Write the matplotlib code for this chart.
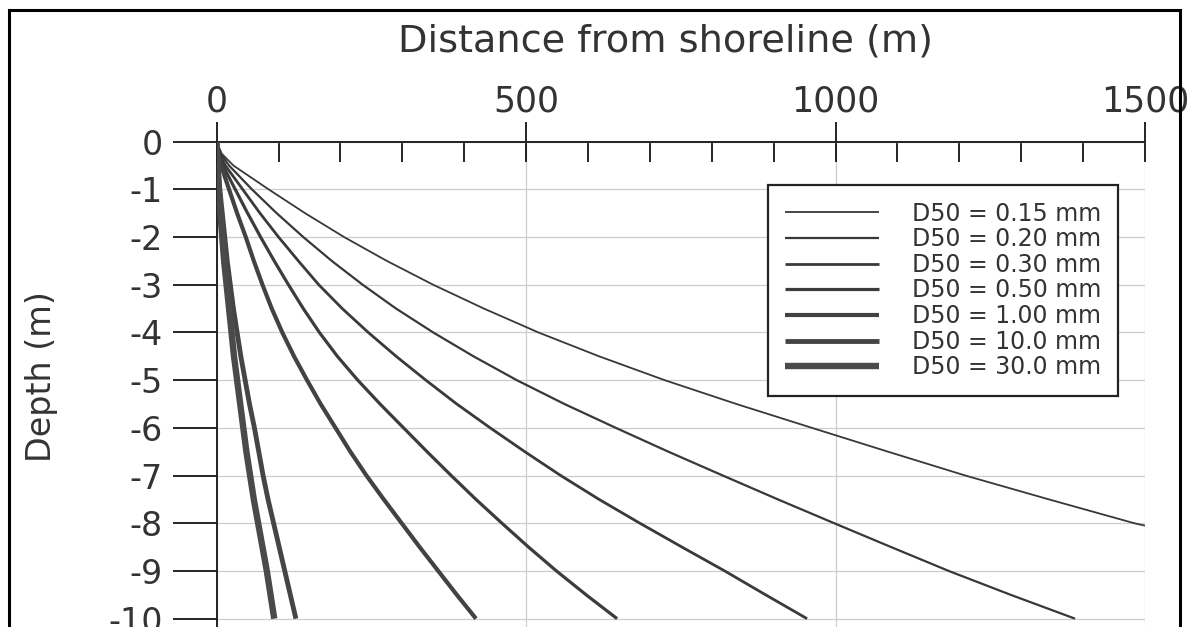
import numpy as np
import matplotlib.pyplot as plt
from matplotlib.lines import Line2D
from matplotlib.ticker import MultipleLocator
plt.rcParams['font.family'] = ['DejaVu Sans']
plt.rcParams['axes.unicode_minus'] = False

# Equilibrium profiles (distance in m, depth in m)
depth = [0, -0.25, -0.5, -1, -1.5, -2, -2.5, -3, -3.5, -4, -4.5, -5, -5.5,
         -6, -6.5, -7, -7.5, -8, -8.5, -9, -9.5, -10]
depth_015 = [0, -0.25, -0.5, -1, -1.5, -2, -2.5, -3, -3.5, -4, -4.5, -5, -5.5,
             -6, -6.5, -7, -7.5, -8, -8.05]
dist_015 = [0, 8, 27, 84, 143, 206, 275, 350, 432, 520, 618, 724, 840,
            962, 1085, 1210, 1345, 1483, 1500]
dist_020 = [0, 6, 20, 57, 97, 140, 186, 236, 290, 350, 415, 485, 562,
            645, 730, 818, 907, 998, 1090, 1183, 1283, 1387]
dist_030 = [0, 4, 14, 42, 70, 100, 132, 165, 203, 245, 290, 338, 388,
            442, 498, 556, 618, 684, 752, 821, 887, 954]
dist_050 = [0, 3, 10, 30, 50, 71, 93, 116, 140, 166, 195, 228, 264,
            302, 340, 379, 419, 461, 504, 549, 597, 647]
dist_100 = [0, 2, 7, 20, 33, 47, 60, 74, 89, 106, 125, 146, 168,
            192, 216, 242, 270, 299, 328, 358, 388, 419]
dist_1000 = [0, 0.5, 2, 5, 9, 13, 17, 22, 27, 33, 39, 46, 53,
             61, 68, 75, 83, 92, 101, 110, 119, 128]
dist_3000 = [0, 0.4, 1.3, 3.5, 6, 9, 12, 16, 20, 24, 28, 33, 38,
             43, 48, 54, 60, 67, 74, 81, 87, 93]

labels = ['D50 = 0.15 mm', 'D50 = 0.20 mm', 'D50 = 0.30 mm', 'D50 = 0.50 mm',
          'D50 = 1.00 mm', 'D50 = 10.0 mm', 'D50 = 30.0 mm']
x_ticks = [0, 500, 1000, 1500]
y_ticks = [0, -1, -2, -3, -4, -5, -6, -7, -8, -9, -10]

# Basic parameters setting
widths = [1.3, 1.6, 2.0, 2.3, 3.0, 3.5, 4.6]
colors = ['#383838', '#383838', '#3a3a3a', '#3c3c3c', '#424242', '#454545', '#4a4a4a']

fig = plt.figure(figsize=(11.88, 6.27), dpi=100)
ax = fig.add_axes([0.1824, -0.0628, 0.7814, 0.8368])

series = [(dist_015, depth_015), (dist_020, depth), (dist_030, depth), (dist_050, depth),
          (dist_100, depth), (dist_1000, depth), (dist_3000, depth)]
for i, (xs, ys) in enumerate(series):
    ax.plot(xs, ys, color=colors[i], linewidth=widths[i], label=labels[i],
            solid_capstyle='butt', solid_joinstyle='round', zorder=3)

ax.set_xlim(0, 1500)
ax.set_ylim(-11, 0)

# Axis at the top with crossing major ticks and inner minor ticks
ax.xaxis.tick_top()
ax.xaxis.set_label_position('top')
ax.set_xticks(x_ticks)
ax.xaxis.set_minor_locator(MultipleLocator(100))
ax.tick_params(axis='x', which='major', direction='inout', length=29, width=1.2,
               labelsize=25, pad=2, colors='black', labelcolor='#333333')
ax.tick_params(axis='x', which='minor', direction='in', length=14.5, width=1.2)
ax.set_yticks(y_ticks)
ax.tick_params(axis='y', which='major', direction='out', length=32, width=1.2,
               labelsize=24, pad=7, labelcolor='#333333')
ax.set_xlabel('Distance from shoreline (m)', fontsize=27.5, color='#333333', labelpad=24)
ax.xaxis.label.set_x(0.483)
ax.set_ylabel('Depth (m)', fontsize=24, color='#333333', labelpad=36)
ax.yaxis.label.set_y(0.553)

for side in ['right', 'bottom']:
    ax.spines[side].set_visible(False)
for side in ['top', 'left']:
    ax.spines[side].set_linewidth(1.4)
    ax.spines[side].set_color('#222222')

ax.grid(True, which='major', color='#cdcdcd', linewidth=0.9, zorder=0)
ax.set_axisbelow(True)

leg = ax.legend(loc='upper right', bbox_to_anchor=(0.971, 0.9175), borderaxespad=0,
                fontsize=17, handlelength=4.0, handletextpad=1.4, labelspacing=0.07,
                borderpad=0.7, fancybox=False, framealpha=1, edgecolor='#222222')
leg.get_frame().set_linewidth(1.6)
for t in leg.get_texts():
    t.set_color('#333333')

# Frame of the scanned page
for xs, ys in [([9 / 1188, 9 / 1188], [0, 1 - 10 / 627]),
               ([9 / 1188, 1180 / 1188], [1 - 10 / 627, 1 - 10 / 627]),
               ([1180 / 1188, 1180 / 1188], [0, 1 - 10 / 627])]:
    fig.add_artist(Line2D(xs, ys, transform=fig.transFigure, color='black', linewidth=2.2))

fig.savefig('out.png', dpi=100)
